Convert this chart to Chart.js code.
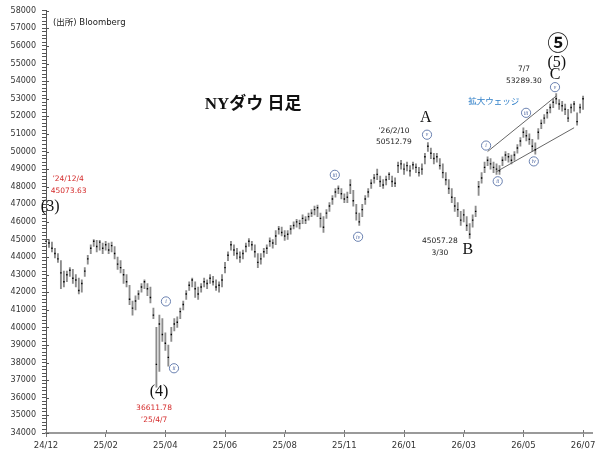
<!DOCTYPE html>
<html><head><meta charset="utf-8">
<script src="https://cdn.jsdelivr.net/npm/chart.js@4.4.1/dist/chart.umd.min.js"></script>
<style>html,body{margin:0;padding:0;background:#fff}#wrap{width:604px;height:462px;position:relative}</style>
</head><body><div id="wrap"><canvas id="c"></canvas></div>
<script>
// ---- data ----
const tickLabels = ['24/12','25/02','25/04','25/06','25/08','25/11','26/01','26/03','26/05','26/07'];
const tickStep = 20;
const slotCount = 184;
const closes = [
44900,44800,44500,44200,43900,43100,42600,43000,43250,42800,
42700,42100,42500,43200,43900,44500,44900,44600,44850,44500,
44700,44400,44650,44200,43600,43400,43000,42600,41600,41100,
41500,41900,42300,42600,42200,41700,40700,37900,40200,39600,
39100,38300,39600,40200,40300,40900,41300,41900,42400,42700,
42200,41900,42300,42600,42500,42800,42600,42300,42400,42700,
43400,44100,44700,44400,44200,44000,44200,44600,44900,44700,
44300,43700,43900,44300,44500,44900,44800,45200,45600,45400,
45200,45300,45600,45800,46000,45900,46200,46100,46300,46500,
46700,46800,46200,45700,46500,46900,47300,47700,47900,47600,
47300,47400,48100,47200,46500,46000,46700,47300,47700,48200,
48500,48700,48300,48100,48400,48700,48300,48200,49200,49300,
49000,49200,48900,49250,49100,48800,49000,49700,50300,49900,
49600,49700,49200,48800,48400,47900,47400,46900,46700,46100,
46400,45800,45300,46100,46600,48000,48500,49100,49500,49300,
49100,49000,48900,49500,49800,49700,49500,49800,50200,50600,
51100,50900,50700,50300,50100,51100,51600,51900,52200,52500,
52800,53000,52700,52600,52400,51900,52500,52700,51700,52500,53000];
const highs = [
45073,45000,44850,44500,44200,43800,43200,43200,43400,43300,
43000,42800,42700,43400,44100,44700,45000,44950,44950,44800,
44900,44800,44850,44600,44000,43800,43300,43000,42400,41500,
41800,42100,42500,42700,42500,42300,41100,40000,40700,40500,
39700,39000,40000,40500,40600,41100,41500,42100,42600,42800,
42600,42300,42500,42800,42700,43000,42900,42700,42600,43000,
43700,44300,44900,44700,44500,44300,44400,44800,45050,44900,
44700,44200,44200,44500,44700,45100,45000,45500,45750,45700,
45500,45500,45800,46000,46150,46100,46400,46300,46500,46700,
46900,46950,46500,46300,46700,47100,47500,47900,48050,47900,
47600,47700,48400,47800,47000,46500,47000,47500,47900,48400,
48700,49000,48600,48400,48600,48800,48600,48500,49400,49500,
49300,49400,49200,49400,49300,49100,49300,49900,50513,50200,
49900,49900,49600,49300,48800,48400,47900,47400,47100,46600,
46700,46300,45900,46400,46900,48300,48800,49400,49700,49600,
49400,49300,49200,49700,50000,49900,49800,50000,50400,50800,
51350,51200,51000,50700,50500,51300,51800,52100,52400,52700,
53000,53289,52950,52850,52700,52400,52700,52850,52200,52700,53150];
const lows = [
44700,44550,44300,43950,43700,42200,42300,42600,42900,42500,
42300,41900,42000,42900,43600,44200,44600,44300,44400,44200,
44400,44200,44300,43900,43300,43100,42500,42300,41300,40700,
41000,41600,42000,42200,41800,41400,40500,36612,37500,39200,
38700,37800,39200,39800,40000,40500,41000,41600,42100,42300,
41700,41600,42000,42300,42200,42500,42400,42100,42000,42300,
43100,43800,44400,44100,43900,43700,43900,44300,44600,44400,
44000,43400,43600,44000,44200,44600,44500,44700,45300,45200,
44950,45000,45300,45600,45700,45600,45900,45900,46100,46300,
46400,46300,45700,45400,46200,46600,47000,47400,47600,47300,
47100,47100,47600,46900,46100,45800,46300,47000,47400,47900,
48200,48400,48000,47900,48100,48400,48000,48000,48800,49000,
48700,48900,48600,49000,48800,48600,48700,49300,50000,49600,
49300,49400,49000,48500,48100,47600,47100,46600,46300,45800,
46000,45500,45057,45700,46300,47500,48200,48800,49200,49000,
48800,48700,48700,49200,49500,49400,49300,49500,49900,50300,
50800,50600,50400,50000,49850,50700,51300,51600,51900,52200,
52500,52700,52400,52300,52100,51700,52200,52300,51500,52200,52400];
const wedgeUpper = [[148, 50000], [171, 53155]];
const wedgeLower = [[151, 48856], [177, 51352]];

// ---- annotations (placed in data coordinates: slot index, price) ----
const SERIF = '"Liberation Serif","Noto Sans CJK JP",serif';
const SANS = '"DejaVu Sans","Noto Sans CJK JP",sans-serif';
const styles = {
  src:   {font:'8.5px ' + SANS, color:'#222', align:'left'},
  title: {font:'bold 17px ' + SERIF, color:'#111'},
  red:   {font:'7.5px ' + SANS, color:'#d42a2a'},
  num:   {font:'7.5px ' + SANS, color:'#222'},
  wave:  {font:'16px ' + SERIF, color:'#111'},
  big:   {font:'bold 21px "Noto Sans CJK JP",' + SERIF, color:'#111'},
  blue:  {font:'8.5px "Noto Sans CJK JP",sans-serif', color:'#2f7fc8'}
};
const notes = [
  ['(出所) Bloomberg', 2.35, 57324, 'src'],
  ['NYダウ 日足', 69.4, 52665, 'title'],
  ['’24/12/4', 7.4, 48440, 'red'],
  ['45073.63', 7.6, 47765, 'red'],
  ['(3)', 1.4, 46845, 'wave'],
  ['(4)', 37.9, 36365, 'wave'],
  ['36611.78', 36.2, 35425, 'red'],
  ['’25/4/7', 36.2, 34715, 'red'],
  ['’26/2/10', 116.6, 51165, 'num'],
  ['50512.79', 116.6, 50560, 'num'],
  ['A', 127.3, 51915, 'wave'],
  ['45057.28', 132, 44930, 'num'],
  ['3/30', 132, 44250, 'num'],
  ['B', 141.4, 44420, 'wave'],
  ['7/7', 160.2, 54675, 'num'],
  ['53289.30', 160.2, 54000, 'num'],
  ['C', 170.6, 54340, 'wave'],
  ['(5)', 171.2, 55070, 'wave'],
  ['⑤', 171.6, 56200, 'big'],
  ['拡大ウェッジ', 150.1, 52870, 'blue']
];
const circles = [
  ['i', 40.2, 41480], ['ii', 42.9, 37680], ['iii', 96.8, 48676], ['iv', 104.6, 45155],
  ['v', 127.7, 50957], ['i', 147.5, 50340], ['ii', 151.4, 48310], ['iii', 160.9, 52200],
  ['iv', 163.5, 49440], ['v', 170.6, 53660]
];

// ---- build library tables ----
const labels = Array.from({length: slotCount}, (_, i) => (i % tickStep === 0 ? (tickLabels[i / tickStep] || '') : ''));
const ranges = lows.map((l, i) => [l, highs[i]]);
function segment(pts) {
  const arr = new Array(slotCount).fill(null);
  pts.forEach(p => { arr[p[0]] = p[1]; });
  return arr;
}

const notePlugin = {
  id: 'notes',
  afterDatasetsDraw(chart) {
    const ctx = chart.ctx, xs = chart.scales.x, ys = chart.scales.y, ca = chart.chartArea;
    ctx.save();
    // inner halves of the major ticks (cross marks on the axes)
    ctx.strokeStyle = '#555'; ctx.lineWidth = 1;
    ys.ticks.forEach(t => {
      if (t.value % 1000 === 0) {
        const py = Math.round(ys.getPixelForValue(t.value)) + 0.5;
        ctx.beginPath(); ctx.moveTo(ca.left, py); ctx.lineTo(ca.left + 3, py); ctx.stroke();
      }
    });
    ctx.strokeStyle = '#777';
    labels.forEach((l, i) => {
      if (l) {
        const px = Math.round(xs.getPixelForValue(i)) + 0.5;
        ctx.beginPath(); ctx.moveTo(px, ca.bottom); ctx.lineTo(px, ca.bottom - 3); ctx.stroke();
      }
    });
    ctx.textBaseline = 'middle';
    for (const [text, j, v, s] of notes) {
      const st = styles[s];
      ctx.font = st.font; ctx.fillStyle = st.color; ctx.textAlign = st.align || 'center';
      ctx.fillText(text, xs.getPixelForValue(j), ys.getPixelForValue(v));
    }
    for (const [r, j, v] of circles) {
      const px = xs.getPixelForValue(j), py = ys.getPixelForValue(v);
      ctx.beginPath(); ctx.arc(px, py, 4.6, 0, Math.PI * 2);
      ctx.fillStyle = '#fff'; ctx.fill();
      ctx.lineWidth = 0.9; ctx.strokeStyle = '#5a74a8'; ctx.stroke();
      ctx.font = 'italic 5.5px "Liberation Serif",serif'; ctx.fillStyle = '#4a64a0'; ctx.textAlign = 'center';
      ctx.fillText(r, px, py + 0.3);
    }
    ctx.restore();
  }
};

new Chart(document.getElementById('c'), {
  type: 'bar',
  data: {
    labels: labels,
    datasets: [
      {type: 'bar', data: ranges, backgroundColor: '#8c8c8c', barThickness: 1.2, order: 3},
      {type: 'line', data: closes, showLine: false, pointStyle: 'rect', pointRadius: 1,
       pointBackgroundColor: '#000', pointBorderWidth: 0, borderColor: '#000', order: 1},
      {type: 'line', data: segment(wedgeUpper), spanGaps: true, borderColor: '#555', borderWidth: 0.9, pointRadius: 0, order: 2},
      {type: 'line', data: segment(wedgeLower), spanGaps: true, borderColor: '#555', borderWidth: 0.9, pointRadius: 0, order: 2}
    ]
  },
  options: {
    responsive: true, maintainAspectRatio: false, animation: false,
    layout: {padding: {left: 0, right: 12, top: 6, bottom: 0}},
    plugins: {legend: {display: false}, tooltip: {enabled: false}},
    scales: {
      x: {
        type: 'category', offset: false,
        grid: {display: true, drawOnChartArea: false, drawTicks: true, tickLength: 4, color: '#777', offset: false},
        border: {color: '#9a9a9a', width: 2},
        ticks: {autoSkip: false, maxRotation: 0, padding: 4, color: '#333',
          font: {family: 'DejaVu Sans', size: 8.5},
          callback: (v, i) => (labels[i] ? labels[i] : null)},
        afterFit: s => { s.height = 29; }
      },
      y: {
        min: 34000, max: 58000,
        grid: {display: true, drawOnChartArea: false, drawTicks: true, tickLength: 4, color: '#555'},
        border: {color: '#555', width: 1},
        ticks: {stepSize: 200, autoSkip: false, padding: 6, color: '#333',
          font: {family: 'DejaVu Sans', size: 8},
          callback: v => (v % 1000 === 0 ? String(v) : '')},
        afterFit: s => { s.width = 46; }
      }
    }
  },
  plugins: [notePlugin]
});
</script></body></html>
